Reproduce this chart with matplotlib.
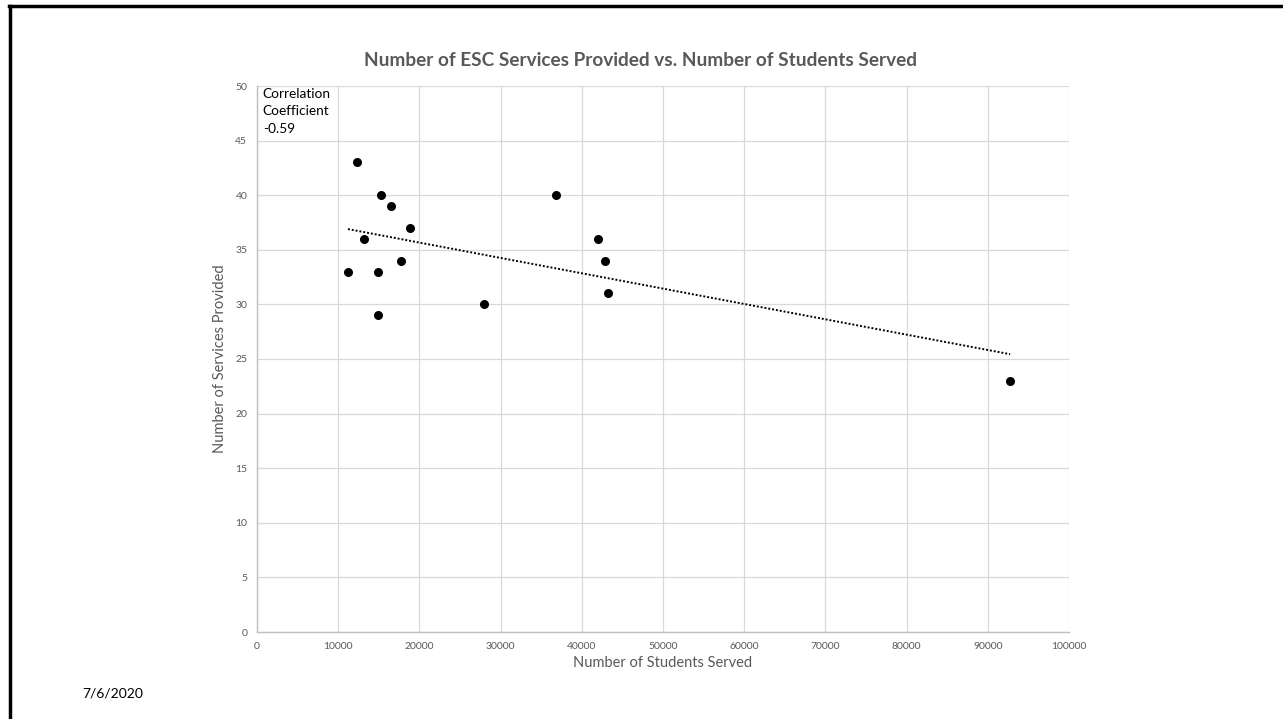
import numpy as np
import matplotlib
matplotlib.use("Agg")
import matplotlib.pyplot as plt
from matplotlib.lines import Line2D

plt.rcParams["font.family"] = ["Lato", "DejaVu Sans"]

# students served (x) vs services provided (y)
students = [11200, 12350, 13150, 14850, 14900, 15300, 16450, 17700, 18850,
            27900, 36850, 42050, 42850, 43250, 92750]
services = [33, 43, 36, 33, 29, 40, 39, 34, 37,
            30, 40, 36, 34, 31, 23]
x_ticks = [0, 10000, 20000, 30000, 40000, 50000, 60000, 70000, 80000, 90000, 100000]
y_ticks = [0, 5, 10, 15, 20, 25, 30, 35, 40, 45, 50]

TXT = "#595959"
W, H = 1283, 719
fig = plt.figure(figsize=(W / 100, H / 100), dpi=100)
ax = fig.add_axes([257 / W, 1 - 632 / H, 812 / W, 546 / H])

ax.scatter(students, services, s=30, color="black", zorder=4)

# linear trendline over the data range
xs = np.array(students, float)
m, b = np.polyfit(xs, np.array(services, float), 1)
xl = np.array([xs.min(), xs.max()])
ax.plot(xl, m * xl + b, color="black", linestyle=(0, (1, 1)), linewidth=1.4, zorder=3)

ax.set_xlim(0, 100000)
ax.set_ylim(0, 50)
ax.set_xticks(x_ticks)
ax.set_yticks(y_ticks)
ax.tick_params(length=0, labelsize=7.5, labelcolor=TXT, pad=7)
ax.grid(True, color="#D9D9D9", linewidth=0.9, zorder=0)
for side in ("top", "right"):
    ax.spines[side].set_visible(False)
for side in ("left", "bottom"):
    ax.spines[side].set_color("#BFBFBF")
    ax.spines[side].set_linewidth(1.0)

ax.set_xlabel("Number of Students Served", fontsize=10.5, color=TXT, labelpad=4)
ax.set_ylabel("Number of Services Provided", fontsize=10.5, color=TXT, labelpad=6)
ax.text(0.007, 0.997, "Correlation\nCoefficient\n-0.59", transform=ax.transAxes,
        ha="left", va="top", fontsize=9.8, color="black", linespacing=1.55)

fig.text(640 / W, 1 - 60 / H, "Number of ESC Services Provided vs. Number of Students Served",
         ha="center", va="center", fontsize=13.7, fontweight="bold", color=TXT)
fig.text(82 / W, 1 - 693 / H, "7/6/2020", ha="left", va="center", fontsize=10, color="black")

# slide frame (top and left edges)
fig.add_artist(Line2D([9 / W, 1], [1 - 5.5 / H, 1 - 5.5 / H], color="black", linewidth=2.5))
fig.add_artist(Line2D([9.5 / W, 9.5 / W], [0, 1 - 5.5 / H], color="black", linewidth=2.5))

fig.savefig("out.png", dpi=100)
